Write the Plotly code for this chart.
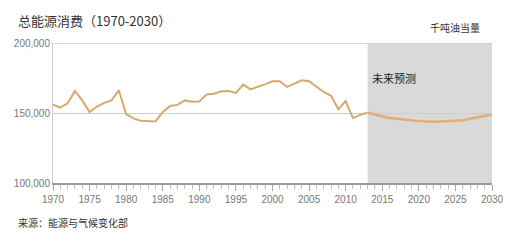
import plotly.graph_objects as go

years_hist = list(range(1970, 2014))
values_hist = [156000, 153900, 157000, 165700, 159000, 150700, 154600, 157200, 159000, 166200,
               149300, 146100, 144400, 144000, 144000, 150500, 155000, 155800, 159000, 158000,
               158200, 163300, 163800, 165500, 165700, 164300, 170300, 166900, 168600, 170500,
               172700, 172700, 168600, 171000, 173400, 172700, 169000, 165000, 162300, 152700,
               158500, 146400, 148800, 150200]
years_fc = list(range(2013, 2031))
values_fc = [150200, 148800, 147300, 146400, 145900, 145200, 144700, 144200, 144000, 143700,
             144000, 144200, 144400, 144900, 145900, 146900, 147800, 149000]

forecast_start = 2013
forecast_end = 2030
y_ticks = [100000, 150000, 200000]
x_ticks = list(range(1970, 2031, 5))

title_text = "总能源消费（1970-2030）"
unit_text = "千吨油当量"
source_text = "来源：能源与气候变化部"
forecast_text = "未来预测"

CJK = "Noto Sans CJK SC"
LAT = "Liberation Sans, Arial, sans-serif"

fig = go.Figure()
fig.add_shape(type="rect", xref="x", yref="y", x0=forecast_start, x1=forecast_end,
              y0=100000, y1=200000, fillcolor="#d9d9d9", line=dict(width=0), layer="below")
fig.add_trace(go.Scatter(x=years_hist, y=values_hist, mode="lines",
                         line=dict(color="#d6aa6c", width=2), hoverinfo="skip"))
fig.add_trace(go.Scatter(x=years_fc, y=values_fc, mode="lines",
                         line=dict(color="#e3ad73", width=2.5), hoverinfo="skip"))

fig.update_layout(
    width=515, height=242,
    margin=dict(l=53, r=23, t=43, b=59),
    paper_bgcolor="white", plot_bgcolor="white",
    showlegend=False,
    annotations=[
        dict(text=forecast_text, x=2013.3, y=175000, xref="x", yref="y",
             xanchor="left", yanchor="middle", showarrow=False,
             font=dict(family=CJK, size=11, color="#222")),
        dict(text=title_text, x=-0.084, y=1.164, xref="paper", yref="paper",
             xanchor="left", yanchor="middle", showarrow=False,
             font=dict(family=CJK, size=13, color="#333")),
        dict(text=unit_text, x=0.978, y=1.114, xref="paper", yref="paper",
             xanchor="right", yanchor="middle", showarrow=False,
             font=dict(family=CJK, size=10, color="#333")),
        dict(text=source_text, x=-0.084, y=-0.279, xref="paper", yref="paper",
             xanchor="left", yanchor="middle", showarrow=False,
             font=dict(family=CJK, size=10, color="#333")),
    ],
    xaxis=dict(range=[1970, 2030], tickvals=x_ticks, showgrid=False,
               showline=True, linecolor="#999", linewidth=1.5,
               ticks="outside", ticklen=6, tickcolor="#aaa",
               minor=dict(dtick=1, tick0=1970, ticks="outside", ticklen=4, tickcolor="#bbb", showgrid=False),
               tickfont=dict(family=LAT, size=10, color="#777"), zeroline=False),
    yaxis=dict(range=[100000, 200000], tickvals=y_ticks, tickformat=",d",
               showgrid=True, gridcolor="#ccc", gridwidth=1,
               showline=True, linecolor="#ccc", mirror=False,
               ticks="", tickfont=dict(family=LAT, size=10, color="#777"), zeroline=False),
)
fig.add_shape(type="line", xref="paper", yref="y", x0=0, x1=1, y0=200000, y1=200000,
              line=dict(color="#ccc", width=1.5))
fig.write_html("out.html")
